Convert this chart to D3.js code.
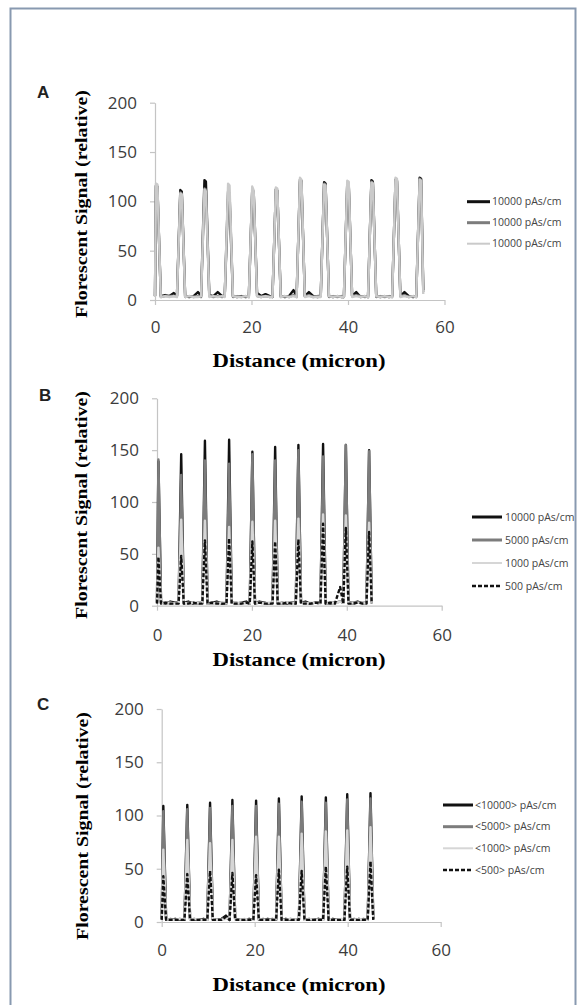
<!DOCTYPE html>
<html>
<head>
<meta charset="utf-8">
<script src="https://cdn.jsdelivr.net/npm/d3@7"></script>
<style>
  html, body { margin: 0; padding: 0; background: #fff; }
  svg { display: block; }
</style>
</head>
<body>
<svg id="fig" width="580" height="1005"></svg>
<script>
// ---------- shared axis ticks ----------
const yTickValues = [0, 50, 100, 150, 200];
const xTickValues = [0, 20, 40, 60];
const yTitle = "Florescent Signal (relative)";
const xTitle = "Distance (micron)";

// ---------- panel A: three 10000 pAs/cm scans ----------
const distanceA = [
  0, 0.2, 0.5, 1.2, 2.1, 3.0, 3.9,
  4.55, 5.25, 5.55, 6.25, 7.1, 8.0, 8.9,
  9.55, 10.25, 10.55, 11.25, 12.1, 13.0, 13.9,
  14.45, 15.15, 15.45, 16.15, 17.0, 17.9, 18.8,
  19.45, 20.15, 20.45, 21.15, 22.0, 22.9, 23.8,
  24.35, 25.05, 25.35, 26.05, 26.9, 27.8, 28.7,
  29.35, 30.05, 30.35, 31.05, 31.9, 32.8, 33.7,
  34.35, 35.05, 35.35, 36.05, 36.9, 37.8, 38.7,
  39.15, 39.85, 40.15, 40.85, 41.7, 42.6, 43.5,
  44.15, 44.85, 45.15, 45.85, 46.7, 47.6, 48.5,
  49.15, 49.85, 50.15, 50.85, 51.7, 52.6, 53.5,
  54.15, 54.85, 55.15, 55.6
];
const signalA1 = [
  4, 116, 115, 4, 5, 4, 7,
  4, 111.5, 110, 4, 3, 4, 8,
  4, 121.5, 120, 5, 4, 8, 4,
  4, 110, 108, 4, 3, 4, 3,
  4, 111, 110, 7, 4, 6, 4,
  3, 112, 111, 4, 3, 4, 10,
  4, 122, 121, 4, 8, 4, 3,
  4, 119.5, 118, 4, 3, 4, 3,
  3, 118, 117, 4, 8, 3, 4,
  3, 121.5, 120, 4, 3, 4, 3,
  4, 122, 121, 4, 8, 4, 3,
  4, 124, 123, 10
];
const signalA2 = [
  4, 115, 114, 3, 4, 4, 4,
  4, 109, 108, 3, 4, 3, 4,
  3, 113, 112, 4, 3, 4, 3,
  4, 102, 101, 3, 4, 3, 4,
  3, 111, 110, 4, 3, 4, 3,
  4, 112, 111, 3, 4, 3, 5,
  3, 120, 119, 4, 5, 3, 4,
  4, 118, 117, 3, 4, 3, 4,
  3, 119, 118, 4, 5, 4, 3,
  4, 120, 119, 3, 4, 3, 4,
  3, 121, 120, 4, 5, 3, 4,
  3, 123, 122, 8
];
const signalA3 = [
  3, 118, 117, 3, 4, 3, 4,
  3, 108, 107, 3, 4, 3, 3,
  4, 112, 110, 3, 4, 3, 4,
  3, 118, 116, 4, 3, 3, 4,
  3, 115, 111, 4, 3, 4, 3,
  3, 114, 113, 3, 4, 3, 4,
  3, 124, 122, 3, 4, 3, 3,
  3, 117, 116, 4, 3, 4, 3,
  3, 121, 120, 3, 4, 3, 4,
  3, 119, 118, 4, 3, 4, 3,
  3, 124, 123, 3, 4, 3, 4,
  3, 122, 121, 6
];
const labelsA = ["10000 pAs/cm", "10000 pAs/cm", "10000 pAs/cm"];

// ---------- panel B: four exposure levels ----------
const distanceB = [
  0, 0.3, 0.85, 1.8, 2.8, 3.9,
  4.55, 5.1, 5.65, 6.6, 7.6, 8.7,
  9.55, 10.1, 10.65, 11.6, 12.6, 13.7,
  14.65, 15.2, 15.75, 16.7, 17.7, 18.8,
  19.55, 20.1, 20.65, 21.6, 22.6, 23.5,
  24.35, 24.9, 25.45, 26.4, 27.4, 28.4,
  29.25, 29.8, 30.35, 31.3, 32.3, 33.4,
  34.45, 35.0, 35.55, 36.5, 37.5, 38.6,
  39.25, 39.8, 40.35, 41.3, 42.3, 43.4,
  44.15, 44.7, 45.25
];
const signalB10000 = [
  3, 139, 3, 2, 4, 3,
  3, 146, 3, 4, 2, 3,
  3, 159, 2, 3, 4, 2,
  3, 160, 3, 2, 3, 4,
  2, 148.5, 3, 4, 3, 2,
  3, 153, 2, 3, 2, 3,
  3, 155, 3, 4, 2, 3,
  3, 156, 3, 2, 3, 4,
  3, 155, 3, 3, 4, 2,
  3, 150, 3
];
const signalB5000 = [
  3, 141, 3, 3, 2, 3,
  3, 126, 2, 3, 3, 2,
  3, 140, 3, 2, 3, 3,
  2, 137, 3, 3, 2, 3,
  3, 146, 2, 3, 3, 2,
  3, 140, 3, 2, 3, 3,
  2, 150, 3, 3, 2, 3,
  3, 144, 2, 3, 3, 4,
  3, 155, 3, 2, 3, 3,
  3, 149, 3
];
const signalB1000 = [
  3, 56, 2, 3, 3, 2,
  2, 83, 3, 2, 3, 3,
  3, 82, 2, 3, 2, 3,
  3, 76, 3, 2, 3, 2,
  2, 81, 3, 3, 2, 3,
  3, 82, 2, 3, 3, 2,
  3, 84, 3, 2, 3, 3,
  2, 88, 3, 3, 2, 4,
  3, 87, 2, 3, 3, 2,
  3, 80, 3
];
const signalB500 = [
  2, 47, 2, 3, 2, 2,
  2, 48, 2, 2, 3, 2,
  2, 63, 2, 3, 2, 2,
  2, 65, 2, 2, 2, 3,
  2, 62, 2, 3, 2, 2,
  2, 62, 2, 2, 3, 2,
  2, 64, 2, 2, 2, 3,
  2, 79, 2, 3, 2, 18,
  2, 75, 2, 2, 3, 2,
  2, 71, 2
];
const labelsB = ["10000 pAs/cm", "5000 pAs/cm", "1000 pAs/cm", "500 pAs/cm"];

// ---------- panel C: averaged exposure levels ----------
const distanceC = [
  0, 0.35, 0.95, 1.9, 2.9, 3.9,
  4.9, 5.5, 6.1, 7.0, 8.0, 9.0,
  9.8, 10.4, 11.0, 11.9, 12.9, 13.8,
  14.6, 15.2, 15.8, 16.8, 17.8, 18.8,
  19.7, 20.3, 20.9, 21.8, 22.8, 23.8,
  24.6, 25.2, 25.8, 26.7, 27.7, 28.7,
  29.5, 30.1, 30.7, 31.7, 32.7, 33.7,
  34.7, 35.3, 35.9, 36.8, 37.8, 38.7,
  39.3, 39.9, 40.5, 41.4, 42.4, 43.4,
  44.3, 44.9, 45.5
];
const signalC10000 = [
  3, 109, 3, 2, 3, 2,
  2, 110, 3, 2, 2, 3,
  2, 112, 3, 2, 3, 6,
  2, 114.5, 3, 2, 2, 3,
  2, 114, 3, 2, 3, 2,
  2, 116, 2, 3, 2, 2,
  2, 118, 3, 2, 2, 3,
  2, 117, 2, 3, 2, 2,
  2, 120, 3, 2, 3, 2,
  2, 121, 3
];
const signalC5000 = [
  3, 104, 2, 3, 2, 3,
  2, 106, 2, 3, 2, 2,
  3, 107, 2, 2, 3, 4,
  2, 109, 3, 2, 2, 2,
  3, 109, 2, 3, 2, 3,
  2, 111, 3, 2, 3, 2,
  2, 113, 2, 3, 2, 3,
  2, 112, 3, 2, 2, 2,
  3, 115, 2, 3, 2, 3,
  2, 116, 3
];
const signalC1000 = [
  2, 68, 3, 2, 2, 3,
  2, 77, 2, 3, 2, 2,
  2, 74, 3, 2, 2, 3,
  3, 77, 2, 2, 3, 2,
  2, 80, 3, 2, 2, 2,
  3, 80, 2, 2, 3, 2,
  2, 83, 2, 3, 2, 2,
  2, 85, 3, 2, 2, 3,
  2, 86, 2, 2, 3, 2,
  2, 89, 2
];
const signalC500 = [
  2, 43, 2, 2, 2, 2,
  2, 45, 2, 2, 2, 2,
  2, 48, 2, 2, 2, 5,
  2, 46, 2, 2, 2, 2,
  2, 44, 2, 2, 2, 2,
  2, 49, 2, 2, 2, 2,
  2, 48, 2, 2, 2, 2,
  2, 52, 2, 2, 2, 2,
  2, 52, 2, 2, 2, 2,
  2, 57, 2
];
const labelsC = ["<10000> pAs/cm", "<5000> pAs/cm", "<1000> pAs/cm", "<500> pAs/cm"];

// ---------- line styles ----------
const styleBlack = { color: "#111", width: 2.4, dash: null, legendWidth: 3 };
const styleDark  = { color: "#7c7c7c", width: 2.4, dash: null, legendWidth: 3 };
const styleLight = { color: "#cacaca", width: 2.4, dash: null, legendWidth: 2 };
const styleDash  = { color: "#111", width: 2.4, dash: "4,2", legendWidth: 2.5 };

// ---------- panel layout ----------
const panels = [
  {
    letter: "A", letterPos: [37, 98],
    xRange: [155, 444.5], yRange: [300, 102.7],
    distance: distanceA,
    series: [
      { values: signalA1, label: labelsA[0], style: styleBlack },
      { values: signalA2, label: labelsA[1], style: styleDark },
      { values: signalA3, label: labelsA[2], style: styleLight }
    ],
    legend: { x0: 467, x1: 490, tx: 492, rows: [201.7, 222.7, 243.7] },
    yTitle: { x: 87, cy: 204 },
    xTickPad: 16,
    xTitleY: 367
  },
  {
    letter: "B", letterPos: [39, 401],
    xRange: [157, 441.7], yRange: [605.7, 398.3],
    distance: distanceB,
    series: [
      { values: signalB10000, label: labelsB[0], style: styleBlack },
      { values: signalB5000,  label: labelsB[1], style: styleDark },
      { values: signalB1000,  label: labelsB[2], style: { ...styleLight, color: "#d6d6d6" } },
      { values: signalB500,   label: labelsB[3], style: styleDash }
    ],
    legend: { x0: 472, x1: 502, tx: 505, rows: [517, 540, 563, 586] },
    yTitle: { x: 87, cy: 505 },
    xTickPad: 18,
    xTitleY: 666
  },
  {
    letter: "C", letterPos: [37, 710],
    xRange: [161.7, 440.7], yRange: [922, 709],
    distance: distanceC,
    series: [
      { values: signalC10000, label: labelsC[0], style: styleBlack },
      { values: signalC5000,  label: labelsC[1], style: styleDark },
      { values: signalC1000,  label: labelsC[2], style: { ...styleLight, color: "#d6d6d6" } },
      { values: signalC500,   label: labelsC[3], style: styleDash }
    ],
    legend: { x0: 443, x1: 473, tx: 475, rows: [805, 826.7, 848.3, 870] },
    yTitle: { x: 88, cy: 826 },
    xTickPad: 17,
    xTitleY: 991
  }
];

const svg = d3.select("#fig");

// outer frame
svg.append("rect")
  .attr("x", 10.5).attr("y", 8.5)
  .attr("width", 565).attr("height", 1005)
  .attr("fill", "none")
  .attr("stroke", "#8899b0")
  .attr("stroke-width", 2);

panels.forEach(p => {
  const x = d3.scaleLinear().domain([0, 60]).range(p.xRange);
  const y = d3.scaleLinear().domain([0, 200]).range(p.yRange);
  const g = svg.append("g");

  // axes
  const yAxis = g.append("g")
    .attr("transform", `translate(${p.xRange[0]},0)`)
    .call(d3.axisLeft(y).tickValues(yTickValues).tickSize(5).tickSizeOuter(0).tickPadding(13));
  const xAxis = g.append("g")
    .attr("transform", `translate(0,${p.yRange[0]})`)
    .call(d3.axisBottom(x).tickValues(xTickValues).tickSize(5).tickSizeOuter(0).tickPadding(p.xTickPad));
  [yAxis, xAxis].forEach(a => {
    a.select(".domain").attr("stroke", "#c4c4c4").attr("stroke-width", 1.2);
    a.selectAll(".tick line").attr("stroke", "#c4c4c4").attr("stroke-width", 1.2);
    a.selectAll(".tick text")
      .attr("fill", "#3c3c3c")
      .style("font-family", "'Open Sans', sans-serif")
      .style("font-size", "17px");
  });

  // signal traces
  const line = d3.line()
    .x((d, i) => x(p.distance[i]))
    .y(d => y(d));
  p.series.forEach(s => {
    g.append("path")
      .datum(s.values)
      .attr("d", line)
      .attr("fill", "none")
      .attr("stroke", s.style.color)
      .attr("stroke-width", s.style.width)
      .attr("stroke-linejoin", "round")
      .attr("stroke-dasharray", s.style.dash);
  });

  // legend
  p.series.forEach((s, i) => {
    const ry = p.legend.rows[i];
    g.append("line")
      .attr("x1", p.legend.x0).attr("x2", p.legend.x1)
      .attr("y1", ry).attr("y2", ry)
      .attr("stroke", s.style.color)
      .attr("stroke-width", s.style.legendWidth)
      .attr("stroke-dasharray", s.style.dash);
    g.append("text")
      .attr("x", p.legend.tx).attr("y", ry)
      .attr("dy", "0.35em")
      .attr("fill", "#444")
      .style("font-family", "'Open Sans', sans-serif")
      .style("font-size", "10.5px")
      .text(s.label);
  });

  // panel letter
  g.append("text")
    .attr("x", p.letterPos[0]).attr("y", p.letterPos[1])
    .attr("fill", "#222")
    .style("font-family", "'Liberation Sans', Arial, sans-serif")
    .style("font-weight", "bold")
    .style("font-size", "17px")
    .text(p.letter);

  // axis titles
  g.append("text")
    .attr("transform", `translate(${p.yTitle.x},${p.yTitle.cy}) rotate(-90)`)
    .attr("text-anchor", "middle")
    .attr("textLength", 228)
    .attr("lengthAdjust", "spacingAndGlyphs")
    .attr("fill", "#000")
    .style("font-family", "'Liberation Serif', 'Times New Roman', serif")
    .style("font-weight", "bold")
    .style("font-size", "17px")
    .text(yTitle);
  g.append("text")
    .attr("x", 299).attr("y", p.xTitleY)
    .attr("text-anchor", "middle")
    .attr("textLength", 173)
    .attr("lengthAdjust", "spacingAndGlyphs")
    .attr("fill", "#000")
    .style("font-family", "'Liberation Serif', 'Times New Roman', serif")
    .style("font-weight", "bold")
    .style("font-size", "18px")
    .text(xTitle);
});
</script>
</body>
</html>
